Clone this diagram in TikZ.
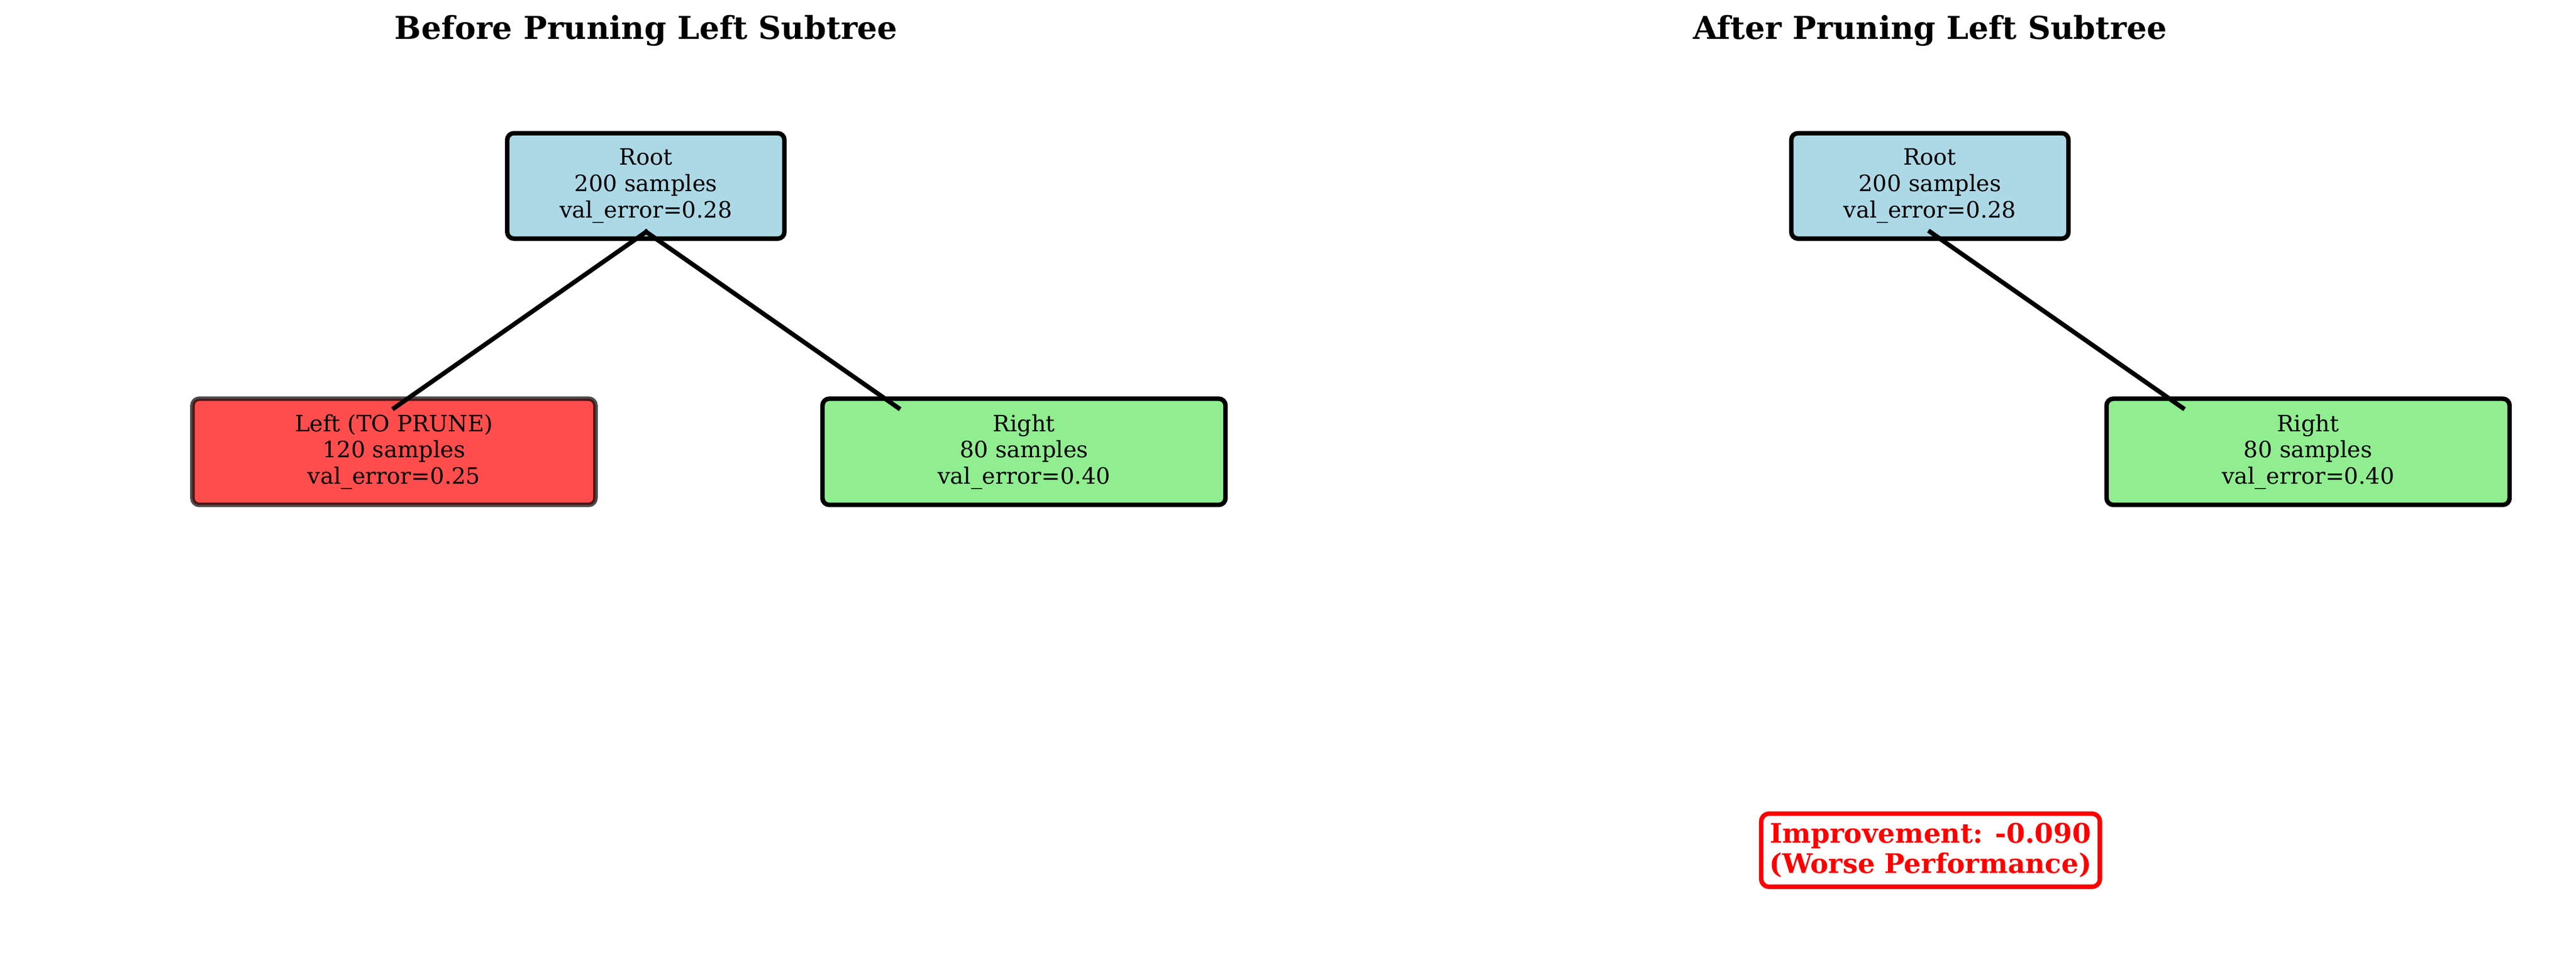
\documentclass[tikz,border=0pt]{standalone}
\usepackage{fontspec}
\setmainfont{DejaVu Serif}
\definecolor{lblue}{HTML}{ADD8E6}
\definecolor{lgreen}{HTML}{90EE90}
\definecolor{pruned}{RGB}{255,77,77}
\begin{document}
\begin{tikzpicture}[x=0.7301pt,y=-0.7301pt,
  box/.style={draw=black, line width=2pt, rounded corners=3pt, align=center,
    font=\fontsize{10}{11.7}\selectfont, inner sep=0pt},
  rootbox/.style={box, fill=lblue, minimum width=123.2pt, minimum height=46.9pt},
  childbox/.style={box, minimum width=179.1pt, minimum height=47.2pt},
  edge/.style={line width=2pt, line cap=rect},
  ttl/.style={font=\fontsize{14}{16}\selectfont\bfseries, anchor=base}]
\useasboundingbox (0,0) rectangle (1568,581.5);
% titles
\node[ttl] (t1) at (393.3,23.7) {Before Pruning Left Subtree};
\node[ttl] (t2) at (1174.8,23.7) {After Pruning Left Subtree};
% left panel
\node[rootbox] (root1) at (393.1,113.2) {Root\\200 samples\\val\_error=0.28};
\node[childbox, fill=pruned, draw opacity=0.7] (left1) at (239.8,275.1) {Left (TO PRUNE)\\120 samples\\val\_error=0.25};
\node[childbox, fill=lgreen] (right1) at (623.3,275.1) {Right\\80 samples\\val\_error=0.40};
\coordinate (r1tip) at (393.3,141.2);
\coordinate (l1tip) at (240.0,248.4);
\coordinate (rr1tip) at (546.8,248.4);
\draw[edge] (r1tip) -- (l1tip);
\draw[edge] (r1tip) -- (rr1tip);
% right panel
\node[rootbox] (root2) at (1174.7,113.2) {Root\\200 samples\\val\_error=0.28};
\node[childbox, fill=lgreen] (right2) at (1404.9,275.1) {Right\\80 samples\\val\_error=0.40};
\coordinate (r2tip) at (1174.9,141.2);
\coordinate (rr2tip) at (1328.6,248.4);
\draw[edge] (r2tip) -- (rr2tip);
% improvement note
\node[draw=red, line width=2pt, fill=white, text=red, rounded corners=3.5pt,
  align=center, inner sep=0pt, minimum width=150.5pt, minimum height=32.5pt,
  font=\fontsize{12}{13.6}\selectfont\bfseries] (imp) at (1175.1,517.7)
  {Improvement: -0.090\\(Worse Performance)};
\end{tikzpicture}
\end{document}
